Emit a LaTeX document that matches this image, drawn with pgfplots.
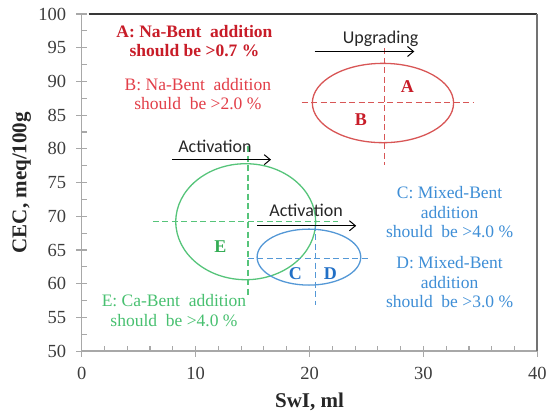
\documentclass[border=0pt]{standalone}
\usepackage{fontspec}
\setmainfont{Liberation Serif}
\newfontfamily\calibri{Carlito}
\usepackage{pgfplots}
\pgfplotsset{compat=1.18}
\usetikzlibrary{arrows.meta}

\definecolor{redline}{RGB}{216,86,86}
\definecolor{redtextA}{RGB}{200,28,40}
\definecolor{redtextB}{RGB}{226,62,72}
\definecolor{greenline}{RGB}{86,196,122}
\definecolor{greentext}{RGB}{72,192,112}
\definecolor{greenbold}{RGB}{52,172,84}
\definecolor{blueline}{RGB}{84,152,214}
\definecolor{bluetext}{RGB}{62,142,214}
\definecolor{bluebold}{RGB}{34,112,198}
\definecolor{axisgray}{RGB}{168,168,168}
\definecolor{ticktext}{RGB}{60,60,60}

\newcommand\ann{\fontsize{17.5}{19.5}\selectfont}

\begin{document}
\begin{tikzpicture}
\begin{axis}[
  name=ax,
  scale only axis, width=455.6pt, height=337.2pt,
  xmin=0, xmax=40, ymin=50, ymax=100,
  xtick={0,10,...,40}, ytick={50,55,...,100},
  minor x tick num=4, minor y tick num=1,
  axis x line*=bottom, axis y line*=left,
  axis line style={draw=axisgray, line width=1.4pt, -},
  tick style={draw=axisgray, line width=1.1pt},
  tick align=inside,
  major tick length=11pt, minor tick length=5pt,
  major x tick style={yshift=-5.5pt},
  major y tick style={xshift=-5.5pt},
  xticklabel={\rmfamily\pgfmathprintnumber[assume math mode=true]{\tick}},
  yticklabel={\rmfamily\pgfmathprintnumber[assume math mode=true]{\tick}},
  tick label style={font=\rmfamily\fontsize{18.5}{20}\selectfont, text=ticktext},
  yticklabel style={xshift=-12pt},
  xticklabel style={yshift=-12pt},
  xlabel={\textbf{SwI, ml}},
  ylabel={\textbf{CEC, meq/100g}},
  label style={font=\fontsize{21}{24}\selectfont\bfseries, text=black!85},
  xlabel style={at={([yshift=-51pt]axis description cs:0.5,0)}, anchor=center},
  ylabel style={at={([xshift=-60pt]axis description cs:0,0.5)}, anchor=center},
  clip=false,
]

% plot-area frame, top and right
\draw[black!78, line width=1.8pt] (rel axis cs:0.015,1) -- (rel axis cs:1,1);
\draw[black!55, line width=1.8pt] (rel axis cs:1,1) -- (rel axis cs:1,0);

% region A/B (Na-Bent)
\draw[redline, line width=1.3pt] (axis cs:26.45,86.8) ellipse [x radius=6.2, y radius=5.88];
\addplot[redline, line width=1.2pt, dash pattern=on 6pt off 3.5pt]
  coordinates {(19.3,86.86) (34.4,86.86)};
\addplot[redline, line width=1.2pt, dash pattern=on 6pt off 3.5pt]
  coordinates {(26.6,94.9) (26.6,77.6)};

% region E (Ca-Bent)
\draw[greenline, line width=1.3pt] (axis cs:14.4,69.2) ellipse [x radius=6.14, y radius=8.6];
\addplot[greenline, line width=1.2pt, dash pattern=on 6pt off 3.5pt]
  coordinates {(6.24,69.2) (22.5,69.2)};
\addplot[greenline, line width=1.2pt, dash pattern=on 6pt off 3.5pt]
  coordinates {(14.6,80.4) (14.6,58.3)};

% region C/D (Mixed-Bent)
\draw[blueline, line width=1.3pt] (axis cs:19.95,63.95) ellipse [x radius=4.55, y radius=4.15];
\addplot[blueline, line width=1.2pt, dash pattern=on 6pt off 3.5pt]
  coordinates {(14.6,63.8) (25.3,63.8)};
\addplot[blueline, line width=1.2pt, dash pattern=on 6pt off 3.5pt]
  coordinates {(20.55,68.75) (20.55,56.9)};

% direction arrows
\addplot[black, line width=1pt, -{Straight Barb[length=6pt,width=10pt]}]
  coordinates {(20.46,94.44) (29.2,94.44)};
\addplot[black, line width=1pt, -{Straight Barb[length=6pt,width=10pt]}]
  coordinates {(7.96,78.4) (16.62,78.4)};
\addplot[black, line width=1pt, -{Straight Barb[length=6pt,width=10pt]}]
  coordinates {(15.4,68.6) (24.1,68.6)};

\node[font=\calibri\fontsize{18}{20}\selectfont, text=black!85] at (axis cs:26.24,96.28) {Upgrading};
\node[font=\calibri\fontsize{18}{20}\selectfont, text=black!85] at (axis cs:11.7,80.4) {Activation};
\node[font=\calibri\fontsize{18}{20}\selectfont, text=black!85] at (axis cs:19.7,70.9) {Activation};

% region letters
\node[font=\fontsize{18}{20}\selectfont\bfseries, text=redtextA] at (axis cs:28.6,89.24) {A};
\node[font=\fontsize{18}{20}\selectfont\bfseries, text=redtextA] at (axis cs:24.5,84.4) {B};
\node[font=\fontsize{18}{20}\selectfont\bfseries, text=greenbold] at (axis cs:12.17,65.5) {E};
\node[font=\fontsize{18}{20}\selectfont\bfseries, text=bluebold] at (axis cs:18.77,61.56) {C};
\node[font=\fontsize{18}{20}\selectfont\bfseries, text=bluebold] at (axis cs:21.84,61.56) {D};

% dosage notes
\node[align=center, font=\ann\bfseries, text=redtextA] at (axis cs:9.9,96.0)
  {A: Na-Bent\ \ addition\\should be >0.7 \%};
\node[align=center, font=\ann, text=redtextB] at (axis cs:10.2,88.1)
  {B: Na-Bent\ \ addition\\should\ \ be >2.0 \%};
\node[align=center, font=\ann, text=bluetext] at (axis cs:32.3,70.6)
  {C: Mixed-Bent\\addition\\should\ \ be >4.0 \%};
\node[align=center, font=\ann, text=bluetext] at (axis cs:32.3,60.2)
  {D: Mixed-Bent\\addition\\should\ \ be >3.0 \%};
\node[align=center, font=\ann, text=greentext] at (axis cs:8.1,56.0)
  {E: Ca-Bent\ \ addition\\should\ \ be >4.0 \%};
\end{axis}
\pgfresetboundingbox
\path ([xshift=-81.7pt,yshift=-61.8pt]ax.south west) rectangle ([xshift=11.7pt,yshift=14pt]ax.north east);
\end{tikzpicture}
\end{document}
